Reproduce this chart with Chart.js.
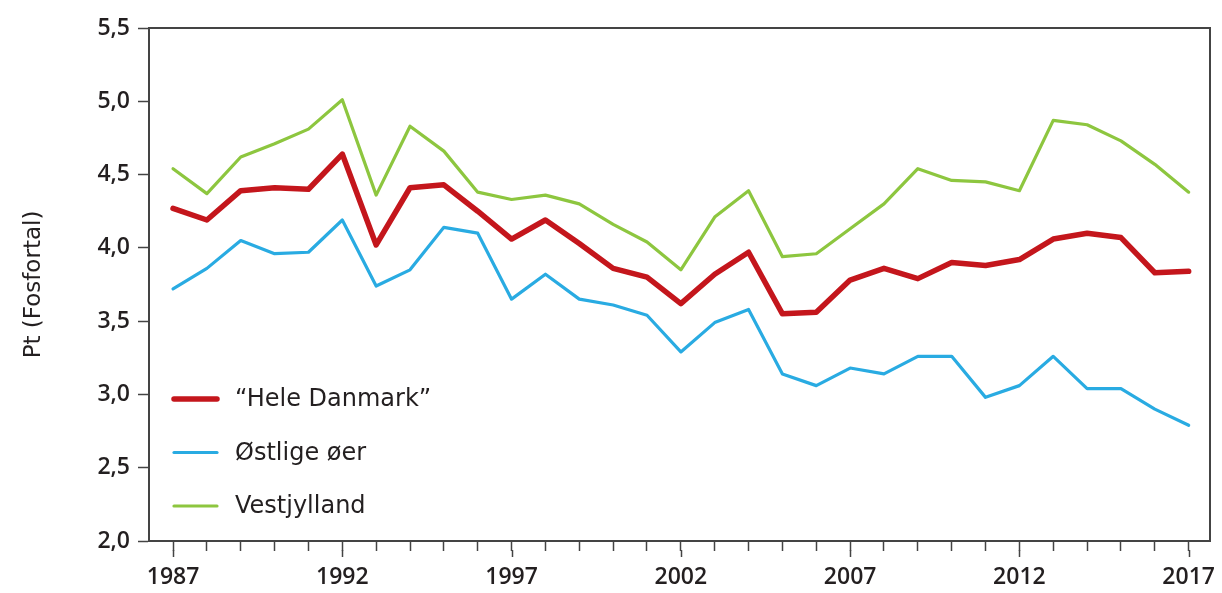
<!DOCTYPE html>
<html>
<head>
<meta charset="utf-8">
<script src="https://cdn.jsdelivr.net/npm/chart.js@4"></script>
<style>
  html, body { margin: 0; padding: 0; background: #fff; }
  #wrap { width: 1222px; height: 593px; position: relative; }
</style>
</head>
<body>
<div id="wrap"><canvas id="chart"></canvas></div>
<script>
/* Fosfortal 1987-2017 */
var years = [1987, 1988, 1989, 1990, 1991, 1992, 1993, 1994, 1995, 1996,
             1997, 1998, 1999, 2000, 2001, 2002, 2003, 2004, 2005, 2006,
             2007, 2008, 2009, 2010, 2011, 2012, 2013, 2014, 2015, 2016, 2017];

var heleDanmark = [4.27, 4.19, 4.39, 4.41, 4.40, 4.64, 4.02, 4.41, 4.43, 4.25,
                   4.06, 4.19, 4.03, 3.86, 3.80, 3.62, 3.82, 3.97, 3.55, 3.56,
                   3.78, 3.86, 3.79, 3.90, 3.88, 3.92, 4.06, 4.10, 4.07, 3.83, 3.84];

var ostligeOer = [3.72, 3.86, 4.05, 3.96, 3.97, 4.19, 3.74, 3.85, 4.14, 4.10,
                  3.65, 3.82, 3.65, 3.61, 3.54, 3.29, 3.49, 3.58, 3.14, 3.06,
                  3.18, 3.14, 3.26, 3.26, 2.98, 3.06, 3.26, 3.04, 3.04, 2.90, 2.79];

var vestjylland = [4.54, 4.37, 4.62, 4.71, 4.81, 5.01, 4.36, 4.83, 4.66, 4.38,
                   4.33, 4.36, 4.30, 4.16, 4.04, 3.85, 4.21, 4.39, 3.94, 3.96,
                   4.13, 4.30, 4.54, 4.46, 4.45, 4.39, 4.87, 4.84, 4.73, 4.57, 4.38];

var yTicks = [2.0, 2.5, 3.0, 3.5, 4.0, 4.5, 5.0, 5.5];
var labelYears = [1987, 1992, 1997, 2002, 2007, 2012, 2017];

var TICK_FONT = "'Open Sans', 'Noto Sans', sans-serif";
var TEXT_FONT = "'DejaVu Sans', 'Open Sans', sans-serif";
var INK = '#231f20';
var AXIS = '#444444';

function pts(vals) {
  return vals.map(function(v, i) { return { x: years[i], y: v }; });
}

/* box frame: top + right edges, plus longer ticks at labelled years */
var framePlugin = {
  id: 'frame',
  afterDraw: function(chart) {
    var ctx = chart.ctx, a = chart.chartArea, xs = chart.scales.x;
    ctx.save();
    ctx.strokeStyle = AXIS;
    ctx.lineWidth = 2;
    ctx.beginPath();
    ctx.moveTo(a.left, a.top);
    ctx.lineTo(a.right, a.top);
    ctx.lineTo(a.right, a.bottom);
    ctx.stroke();
    ctx.lineWidth = 1.5;
    labelYears.forEach(function(y) {
      var px = Math.round(xs.getPixelForValue(y)) + 0.5;
      ctx.beginPath();
      ctx.moveTo(px, a.bottom + 9);
      ctx.lineTo(px, a.bottom + 16);
      ctx.stroke();
    });
    ctx.restore();
  }
};

/* legend inside the plot, lower left */
var legendPlugin = {
  id: 'innerLegend',
  afterDraw: function(chart) {
    var ctx = chart.ctx, a = chart.chartArea;
    ctx.save();
    ctx.font = '24px ' + TEXT_FONT;
    ctx.textBaseline = 'middle';
    chart.data.datasets.forEach(function(ds, i) {
      var y = a.top + 371 + i * 53.5;
      ctx.strokeStyle = ds.borderColor;
      ctx.lineWidth = ds.borderWidth;
      ctx.lineCap = 'round';
      ctx.beginPath();
      ctx.moveTo(a.left + 25, y);
      ctx.lineTo(a.left + 68, y);
      ctx.stroke();
      ctx.fillStyle = INK;
      ctx.fillText(ds.label, a.left + 86, y + 1);
    });
    ctx.restore();
  }
};

new Chart(document.getElementById('chart'), {
  type: 'line',
  data: {
    datasets: [
      { label: '\u201cHele Danmark\u201d', data: pts(heleDanmark),
        borderColor: '#c4161c', borderWidth: 5.5, order: 0 },
      { label: '\u00d8stlige \u00f8er', data: pts(ostligeOer),
        borderColor: '#29abe2', borderWidth: 3.2, order: 1 },
      { label: 'Vestjylland', data: pts(vestjylland),
        borderColor: '#8dc63f', borderWidth: 3.2, order: 2 }
    ]
  },
  plugins: [framePlugin, legendPlugin],
  options: {
    responsive: true,
    maintainAspectRatio: false,
    animation: false,
    layout: { autoPadding: false, padding: { top: 28, right: 12, left: 0, bottom: 0 } },
    elements: {
      point: { radius: 0, hoverRadius: 0 },
      line: { tension: 0, borderJoinStyle: 'round', borderCapStyle: 'round' }
    },
    plugins: { legend: { display: false }, tooltip: { enabled: false } },
    scales: {
      x: {
        type: 'linear',
        min: 1986.29,
        max: 2017.63,
        afterBuildTicks: function(scale) {
          scale.ticks = years.map(function(y) { return { value: y }; });
        },
        afterFit: function(scale) {
          scale.height = 52;
          scale.paddingLeft = 0;
          scale.paddingRight = 0;
        },
        grid: { drawOnChartArea: false, tickLength: 10, tickColor: AXIS, tickWidth: 1.5 },
        border: { color: AXIS, width: 2 },
        ticks: {
          autoSkip: false,
          maxRotation: 0,
          padding: 13,
          color: INK,
          font: { family: TICK_FONT, size: 23, weight: '600' },
          callback: function(v) {
            return labelYears.indexOf(v) >= 0 ? String(v) : '';
          }
        }
      },
      y: {
        min: 2,
        max: 5.5,
        afterBuildTicks: function(scale) {
          scale.ticks = yTicks.map(function(v) { return { value: v }; });
        },
        afterFit: function(scale) {
          scale.width = 149;
          scale.paddingTop = 0;
          scale.paddingBottom = 0;
        },
        grid: { drawOnChartArea: false, tickLength: 11, tickColor: AXIS, tickWidth: 1.5 },
        border: { color: AXIS, width: 2 },
        title: {
          display: true,
          text: 'Pt (Fosfortal)',
          color: INK,
          font: { family: TEXT_FONT, size: 23, weight: '400' },
          padding: { top: 20, bottom: 0 }
        },
        ticks: {
          padding: 8,
          color: INK,
          font: { family: TICK_FONT, size: 23, weight: '600' },
          callback: function(v) { return v.toFixed(1).replace('.', ','); }
        }
      }
    }
  }
});
</script>
</body>
</html>
